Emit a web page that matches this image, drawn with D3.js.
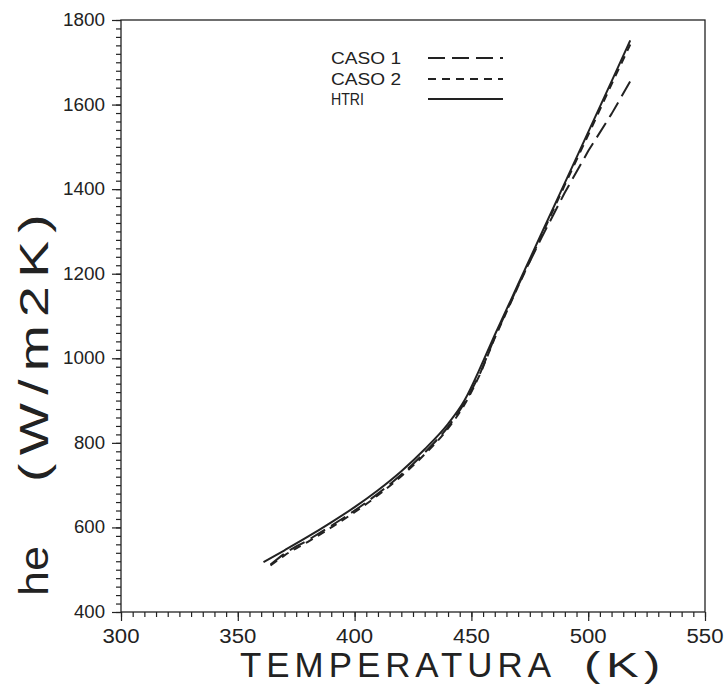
<!DOCTYPE html>
<html>
<head>
<meta charset="utf-8">
<script src="https://cdn.jsdelivr.net/npm/d3@7"></script>
<style>
  body { margin: 0; background: #fff; }
  text { font-family: "Liberation Sans", Arial, sans-serif; fill: #222; }
</style>
</head>
<body>
<script>
// he vs temperature, three curves (the knee index splits the smooth lower part from the straight upper part)
const htriT  = [361, 370, 380, 390, 400, 410, 420, 430, 440, 447, 453, 460, 470, 480, 490, 500, 510, 518];
const htriHe = [518, 546, 578, 612, 648, 688, 733, 785, 845, 900, 968, 1055, 1175, 1295, 1415, 1535, 1655, 1752];

const caso2T  = [364, 370, 380, 390, 400, 410, 420, 430, 440, 447, 454, 460, 470, 480, 490, 500, 510, 518];
const caso2He = [510, 534, 566, 600, 636, 676, 721, 773, 834, 890, 966, 1048, 1170, 1290, 1410, 1528, 1648, 1742];

const caso1T  = [364, 370, 380, 390, 400, 410, 420, 430, 440, 447, 454, 460, 470, 480, 490, 500, 510, 518];
const caso1He = [512, 538, 570, 604, 640, 680, 725, 777, 838, 894, 968, 1050, 1172, 1285, 1392, 1490, 1578, 1655];

const kneeIndex = 10;

const xTicks = [300, 350, 400, 450, 500, 550];
const yTicks = [400, 600, 800, 1000, 1200, 1400, 1600, 1800];
const legendLabels = ["CASO  1", "CASO  2", "HTRI"];

let width = 727,
  height = 687;
let margin = { left: 121, top: 20, right: 22, bottom: 75 };

let svg = d3.select("body").append("svg")
  .attr("width", width)
  .attr("height", height);

let x = d3.scaleLinear().domain([300, 550]).range([margin.left, width - margin.right]);
let y = d3.scaleLinear().domain([400, 1800]).range([height - margin.bottom, margin.top]);

let ink = "#222";

// frame
svg.append("rect")
  .attr("x", x(300)).attr("y", y(1800))
  .attr("width", x(550) - x(300)).attr("height", y(400) - y(1800))
  .attr("fill", "none").attr("stroke", ink).attr("stroke-width", 1.3);

// x axis: minor every 5 K, major every 50
let xAxisG = svg.append("g").attr("transform", `translate(0,${y(400)})`);
xAxisG.call(d3.axisBottom(x).tickValues(d3.range(300, 551, 5)).tickSize(5).tickFormat(""));
xAxisG.call(g => g.append("g").call(d3.axisBottom(x).tickValues(xTicks).tickSize(9).tickFormat("")));
xAxisG.selectAll("path.domain").remove();
xAxisG.selectAll("line").attr("stroke", ink).attr("stroke-width", 1.2);

xTicks.forEach(t => {
  svg.append("text")
    .attr("x", x(t)).attr("y", y(400) + 31)
    .attr("text-anchor", "middle")
    .attr("font-size", 20)
    .attr("textLength", 37).attr("lengthAdjust", "spacingAndGlyphs")
    .text(t);
});

// y axis: minor every 20, major every 200
let yAxisG = svg.append("g").attr("transform", `translate(${x(300)},0)`);
yAxisG.call(d3.axisLeft(y).tickValues(d3.range(400, 1801, 20)).tickSize(5).tickFormat(""));
yAxisG.call(g => g.append("g").call(d3.axisLeft(y).tickValues(yTicks).tickSize(9).tickFormat("")));
yAxisG.selectAll("path.domain").remove();
yAxisG.selectAll("line").attr("stroke", ink).attr("stroke-width", 1.2);

yTicks.forEach(v => {
  svg.append("text")
    .attr("x", x(300) - 16).attr("y", y(v) + 6)
    .attr("text-anchor", "end")
    .attr("font-size", 18)
    .attr("textLength", v >= 1000 ? 42 : 31).attr("lengthAdjust", "spacingAndGlyphs")
    .text(v);
});

// axis titles
svg.append("text")
  .attr("x", 240).attr("y", 677)
  .attr("font-size", 35)
  .style("letter-spacing", "5px")
  .attr("textLength", 316).attr("lengthAdjust", "spacingAndGlyphs")
  .text("TEMPERATURA");
svg.append("text")
  .attr("x", 584).attr("y", 677)
  .attr("font-size", 35)
  .style("letter-spacing", "4px")
  .attr("textLength", 82).attr("lengthAdjust", "spacingAndGlyphs")
  .text("(K)");

svg.append("text")
  .attr("transform", "translate(48,596) rotate(-90)")
  .attr("font-size", 40)
  .attr("textLength", 50).attr("lengthAdjust", "spacingAndGlyphs")
  .text("he");
svg.append("text")
  .attr("transform", "translate(48,482) rotate(-90)")
  .attr("font-size", 40)
  .style("letter-spacing", "6px")
  .attr("textLength", 276).attr("lengthAdjust", "spacingAndGlyphs")
  .text("(W/m2K)");

// curves
let series = [
  { T: caso1T, he: caso1He, dash: "17,7" },
  { T: caso2T, he: caso2He, dash: "8,6" },
  { T: htriT, he: htriHe, dash: null }
];

let smooth = d3.line().x(d => x(d[0])).y(d => y(d[1])).curve(d3.curveMonotoneX);
let straight = d3.line().x(d => x(d[0])).y(d => y(d[1]));

series.forEach(s => {
  let pts = s.T.map((t, i) => [t, s.he[i]]);
  let lower = smooth(pts.slice(0, kneeIndex + 1));
  let upper = straight(pts.slice(kneeIndex)).replace(/^M[^L]*/, "");
  svg.append("path")
    .attr("d", lower + upper)
    .attr("fill", "none")
    .attr("stroke", ink)
    .attr("stroke-width", 2)
    .attr("stroke-linejoin", "round")
    .attr("stroke-dasharray", s.dash);
});

// legend
let legendY = [58, 79, 99];
series.forEach((s, i) => {
  svg.append("text")
    .attr("x", 331).attr("y", legendY[i] + 6)
    .attr("font-size", 16)
    .attr("textLength", i < 2 ? 70 : 33).attr("lengthAdjust", "spacingAndGlyphs")
    .text(legendLabels[i]);
  svg.append("line")
    .attr("x1", 428).attr("x2", 503)
    .attr("y1", legendY[i]).attr("y2", legendY[i])
    .attr("stroke", ink).attr("stroke-width", 2)
    .attr("stroke-dasharray", s.dash);
});
</script>
</body>
</html>
